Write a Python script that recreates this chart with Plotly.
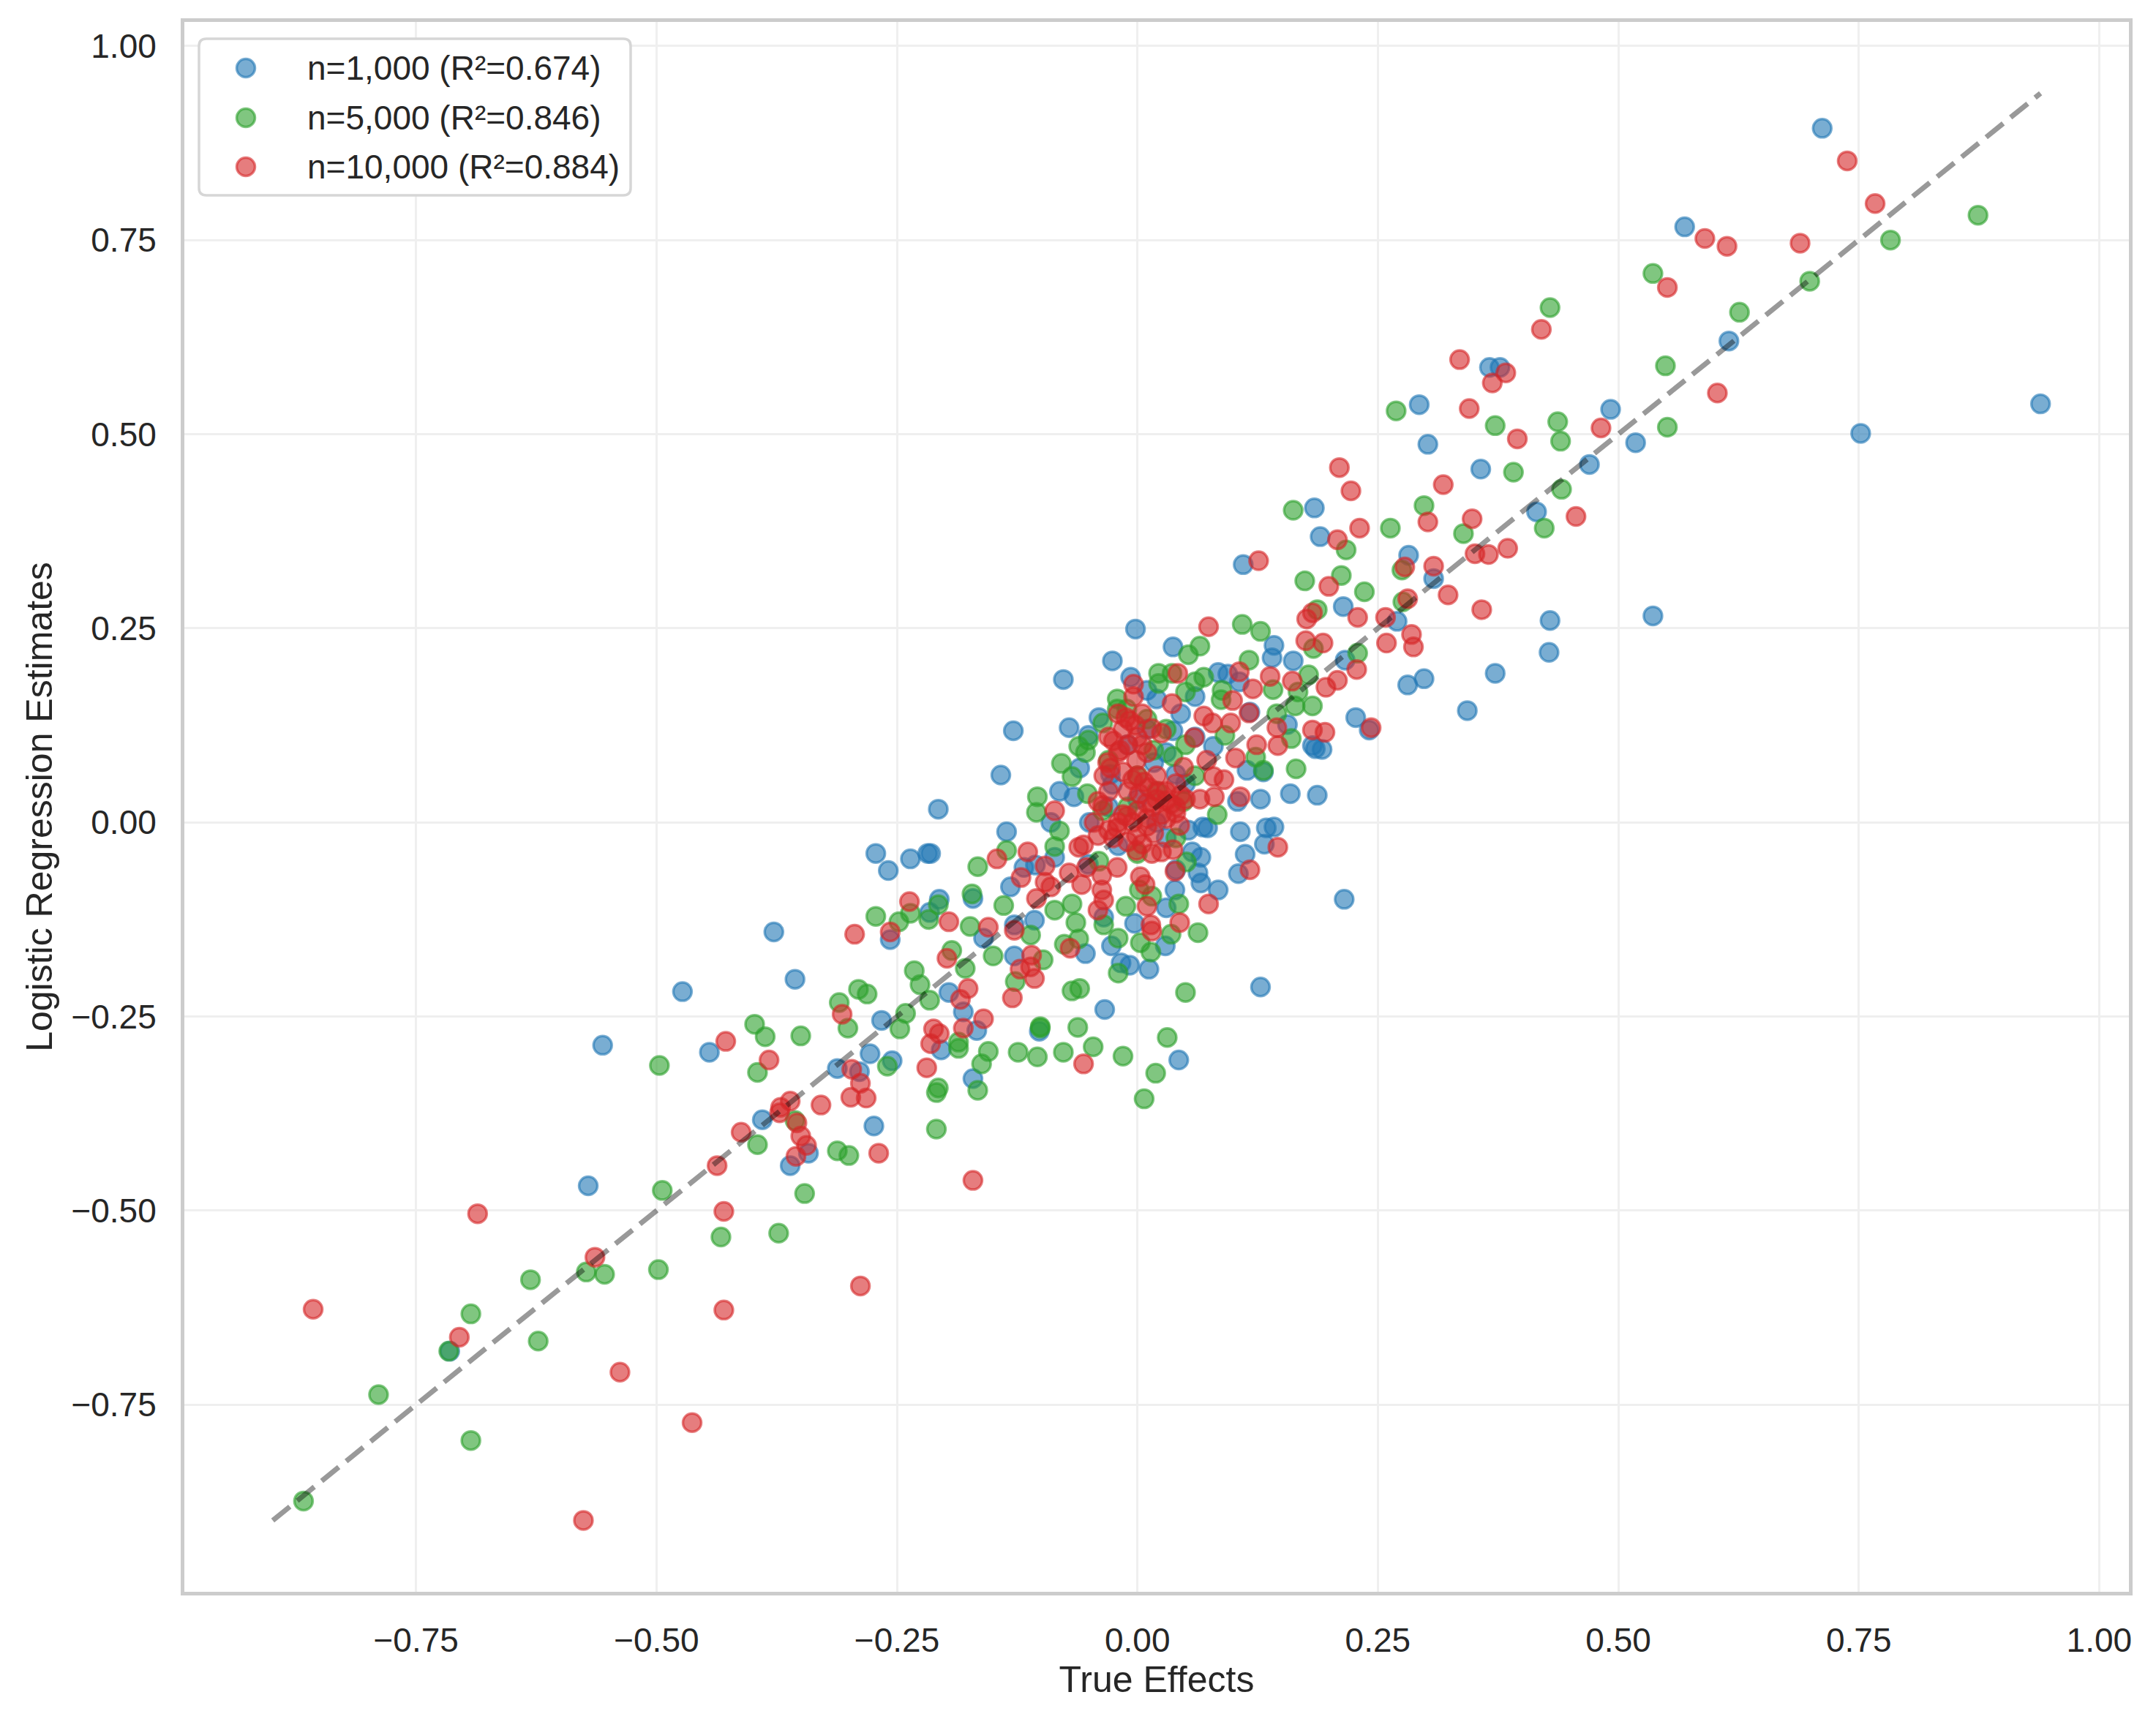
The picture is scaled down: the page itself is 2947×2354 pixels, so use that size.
import plotly.graph_objects as go

# sample sizes and the R² values shown in the legend
sample_sizes = [1000, 5000, 10000]
r2_values = [0.674, 0.846, 0.884]
colors = ["31,119,180", "44,160,44", "214,39,40"]

# (true effect, logistic regression estimate)
n1000_pairs = [
    (0.712, 0.894), (0.569, 0.767), (0.615, 0.620), (0.939, 0.539), (0.752, 0.501),
    (0.492, 0.532), (0.366, 0.586), (0.377, 0.586), (0.293, 0.538),
    (0.302, 0.487), (0.357, 0.455), (0.518, 0.489), (0.470, 0.461), (0.415, 0.400),
    (0.184, 0.405), (0.190, 0.368), (0.110, 0.332), (0.282, 0.344), (0.308, 0.314),
    (0.214, 0.278), (0.270, 0.259), (0.429, 0.260), (0.536, 0.266), (0.428, 0.219),
    (0.372, 0.192), (0.343, 0.144), (0.298, 0.185), (0.281, 0.177), (0.227, 0.135),
    (0.241, 0.119), (0.142, 0.228), (0.140, 0.212), (0.162, 0.208), (0.216, 0.209),
    (0.185, 0.095), (0.192, 0.094), (0.159, 0.037), (0.187, 0.035), (0.128, 0.030),
    (0.084, 0.193), (0.094, 0.191), (0.114, 0.067),
    (0.117, 0.142), (0.106, 0.181), (0.079, 0.098), (0.131, 0.065), (0.156, 0.126),
    (0.182, 0.099), (0.104, 0.027),
    (-0.002, 0.249), (-0.026, 0.208), (0.037, 0.226), (-0.077, 0.184), (-0.129, 0.118),
    (-0.071, 0.122), (-0.142, 0.061), (-0.081, 0.040), (-0.066, 0.033), (-0.040, 0.135),
    (-0.007, 0.187), (0.020, 0.159), (0.060, 0.162), (0.037, 0.118), (0.040, 0.062),
    (-0.026, 0.049), (-0.028, 0.062), (-0.051, 0.112), (0.017, 0.077), (0.068, -0.006),
    (0.053, -0.010), (0.073, -0.007), (-0.136, -0.012), (0.107, -0.012), (0.134, -0.007),
    (0.142, -0.006), (0.132, -0.028),
    (-0.207, 0.017), (-0.132, -0.083), (-0.171, -0.098), (-0.106, -0.055), (-0.118, -0.058),
    (-0.128, -0.132), (-0.107, -0.126), (-0.160, -0.149), (-0.128, -0.172), (-0.054, -0.169),
    (-0.035, -0.122), (-0.027, -0.159), (-0.017, -0.181), (-0.008, -0.184), (0.012, -0.189),
    (-0.003, -0.130), (0.029, -0.159), (0.039, -0.087), (0.057, -0.038), (0.066, -0.045),
    (0.063, -0.065), (0.066, -0.078), (0.084, -0.087), (0.112, -0.041), (0.105, -0.066),
    (0.215, -0.099), (0.128, -0.212), (0.043, -0.306), (-0.034, -0.241), (-0.102, -0.269),
    (-0.181, -0.244), (-0.167, -0.268), (-0.171, -0.330), (0.030, -0.110),
    (-0.086, -0.045), (-0.051, -0.054), (0.040, -0.061),
    (-0.272, -0.040), (-0.259, -0.062), (-0.236, -0.047), (-0.218, -0.040), (-0.215, -0.040),
    (-0.206, -0.099), (-0.216, -0.116), (-0.257, -0.151), (-0.378, -0.141), (-0.356, -0.202),
    (-0.473, -0.218), (-0.556, -0.287), (-0.445, -0.296), (-0.266, -0.255), (-0.278, -0.298),
    (-0.255, -0.307), (-0.289, -0.321), (-0.312, -0.317), (-0.204, -0.293), (-0.196, -0.219),
    (-0.390, -0.383), (-0.274, -0.391), (-0.342, -0.426), (-0.361, -0.442), (-0.571, -0.468),
    (-0.715, -0.681),
    (-0.010, 0.100), (0.010, 0.120), (0.030, 0.090), (-0.030, 0.020), (0.000, 0.030),
    (0.020, 0.000), (-0.050, 0.000), (0.050, 0.050), (-0.020, -0.030), (0.045, 0.140),
    (-0.060, 0.070), (0.010, 0.170), (0.060, 0.110), (-0.090, 0.000), (0.030, -0.020),
]

n5000_pairs = [
    (0.874, 0.782), (0.783, 0.750), (0.699, 0.697), (0.536, 0.707), (0.429, 0.663),
    (0.626, 0.657), (0.549, 0.588), (0.551, 0.509), (0.437, 0.516), (0.372, 0.511),
    (0.269, 0.530),
    (0.440, 0.491), (0.391, 0.451), (0.441, 0.429), (0.423, 0.379), (0.298, 0.408),
    (0.339, 0.372), (0.263, 0.379), (0.162, 0.402), (0.217, 0.351), (0.212, 0.318),
    (0.174, 0.311), (0.236, 0.297), (0.275, 0.325), (0.276, 0.284), (0.187, 0.274),
    (0.109, 0.255), (0.128, 0.246), (0.183, 0.224), (0.229, 0.218), (0.116, 0.209),
    (0.178, 0.190), (0.141, 0.171), (0.087, 0.158), (0.167, 0.168), (0.182, 0.150),
    (0.145, 0.140), (0.160, 0.108), (0.165, 0.069), (0.131, 0.067),
    (0.164, 0.150), (0.123, 0.084), (0.091, 0.112), (0.083, 0.010), (0.088, 0.170),
    (0.053, 0.216), (0.065, 0.227), (0.022, 0.192), (0.022, 0.179), (0.036, 0.192),
    (0.060, 0.181), (0.069, 0.187), (0.050, 0.168), (-0.021, 0.159), (-0.021, 0.146),
    (-0.011, 0.146), (-0.036, 0.128), (-0.051, 0.106), (-0.061, 0.098), (-0.054, 0.090),
    (-0.079, 0.076), (-0.068, 0.059), (-0.104, 0.033), (-0.105, 0.013), (-0.081, -0.011),
    (-0.086, -0.031), (-0.136, -0.036), (-0.052, 0.037), (0.037, 0.085), (0.010, 0.133),
    (0.017, 0.093), (0.048, 0.027), (-0.036, 0.015),
    (-0.166, -0.057), (-0.139, -0.107), (-0.172, -0.092), (-0.174, -0.134), (-0.150, -0.172),
    (-0.111, -0.145), (-0.098, -0.177), (-0.127, -0.205), (-0.179, -0.188), (-0.193, -0.165),
    (-0.086, -0.113), (-0.068, -0.105), (-0.064, -0.129), (-0.076, -0.157), (-0.061, -0.150),
    (-0.035, -0.132), (-0.020, -0.149), (-0.012, -0.108), (0.003, -0.155), (0.014, -0.167),
    (-0.020, -0.194), (0.002, -0.087), (0.015, -0.095), (0.035, -0.144), (0.043, -0.105),
    (0.063, -0.142), (0.051, -0.051), (-0.068, -0.217), (-0.060, -0.214), (0.050, -0.219),
    (-0.101, -0.263), (-0.101, -0.265), (-0.062, -0.264), (-0.046, -0.289), (-0.015, -0.301),
    (0.031, -0.277), (0.019, -0.323), (0.007, -0.356), (-0.077, -0.296), (-0.104, -0.302),
    (-0.124, -0.296), (-0.155, -0.295), (-0.162, -0.311), (-0.186, -0.291), (-0.186, -0.283),
    (-0.166, -0.345),
    (-0.272, -0.121), (-0.248, -0.128), (-0.236, -0.117), (-0.217, -0.125), (-0.207, -0.106),
    (-0.232, -0.191), (-0.226, -0.209), (-0.290, -0.215), (-0.281, -0.221), (-0.310, -0.232),
    (-0.301, -0.265), (-0.241, -0.246), (-0.247, -0.266), (-0.216, -0.229), (-0.398, -0.260),
    (-0.387, -0.276), (-0.350, -0.275), (-0.395, -0.322), (-0.497, -0.313), (-0.260, -0.314),
    (-0.207, -0.342), (-0.209, -0.348), (-0.209, -0.395), (-0.356, -0.384), (-0.312, -0.423),
    (-0.300, -0.429), (-0.395, -0.415), (-0.346, -0.478), (-0.494, -0.474), (-0.433, -0.534),
    (-0.373, -0.529), (-0.573, -0.579), (-0.554, -0.582), (-0.498, -0.576), (-0.631, -0.589),
    (-0.693, -0.633), (-0.623, -0.668), (-0.716, -0.681),
    (-0.789, -0.737), (-0.693, -0.796), (-0.867, -0.874),
    (0.000, 0.060), (0.020, 0.040), (-0.010, 0.020), (0.030, 0.120), (-0.030, 0.080),
    (0.050, 0.100), (0.000, -0.040), (0.040, -0.020), (-0.040, -0.050), (0.060, 0.060),
]

n10000_pairs = [
    (0.738, 0.852), (0.767, 0.797), (0.590, 0.752), (0.613, 0.742), (0.689, 0.746),
    (0.551, 0.689), (0.420, 0.635), (0.335, 0.596), (0.383, 0.579), (0.369, 0.566),
    (0.345, 0.533), (0.482, 0.508), (0.603, 0.553), (0.395, 0.494),
    (0.210, 0.457), (0.222, 0.427), (0.318, 0.435), (0.231, 0.379), (0.208, 0.364),
    (0.302, 0.387), (0.348, 0.391), (0.456, 0.394), (0.126, 0.337), (0.199, 0.304),
    (0.278, 0.329), (0.308, 0.330), (0.281, 0.288), (0.323, 0.293), (0.351, 0.346),
    (0.365, 0.345), (0.385, 0.353), (0.358, 0.274), (0.229, 0.264), (0.258, 0.264),
    (0.176, 0.262), (0.182, 0.270), (0.285, 0.242), (0.287, 0.226), (0.259, 0.231),
    (0.175, 0.234), (0.193, 0.231), (0.228, 0.197), (0.208, 0.183), (0.196, 0.174),
    (0.161, 0.182), (0.138, 0.188), (0.106, 0.194), (0.120, 0.172), (0.099, 0.157),
    (0.116, 0.141), (0.243, 0.122), (0.182, 0.119), (0.195, 0.116), (0.145, 0.122),
    (0.124, 0.100), (0.146, 0.099), (0.102, 0.083), (0.090, 0.055), (0.107, 0.033),
    (0.097, 0.128), (0.078, 0.128), (0.080, 0.033), (0.079, 0.059),
    (0.074, 0.252), (0.042, 0.192), (0.069, 0.137), (0.059, 0.109), (0.036, 0.153),
    (-0.004, 0.178), (-0.004, 0.162), (-0.008, 0.131), (0.015, 0.121), (0.025, 0.115),
    (-0.018, 0.093), (-0.031, 0.077), (-0.001, 0.080), (0.007, 0.052), (0.002, 0.037),
    (0.048, 0.071), (0.072, 0.080), (0.065, 0.030), (0.035, 0.024), (0.030, 0.005),
    (0.010, 0.005), (-0.011, 0.008), (-0.041, 0.027), (-0.036, 0.022), (-0.086, 0.015),
    (-0.021, -0.007), (-0.001, -0.017), (0.017, -0.014), (-0.041, -0.017), (-0.056, -0.029),
    (0.044, -0.004), (-0.061, -0.032), (-0.001, -0.036),
    (-0.020, 0.140), (-0.015, 0.120), (-0.025, 0.105), (-0.010, 0.100), (0.000, 0.110),
    (0.005, 0.140), (0.010, 0.090), (-0.030, 0.110), (0.020, 0.030), (0.030, 0.040),
    (0.040, 0.050), (0.015, 0.020), (-0.005, 0.000), (-0.020, 0.000), (-0.030, -0.010),
    (0.000, 0.060), (0.020, 0.060), (0.050, 0.030), (0.025, 0.010), (-0.010, 0.040),
    (-0.015, 0.065), (0.010, 0.025), (0.040, 0.020), (-0.045, 0.000),
    (-0.012, 0.135), (-0.002, 0.125), (0.005, 0.100), (-0.020, 0.090), (-0.028, 0.070),
    (-0.035, 0.060), (-0.005, 0.055), (0.012, 0.045), (0.022, 0.040), (0.030, 0.028),
    (0.040, 0.012), (0.045, 0.035), (0.010, -0.005), (-0.010, -0.025), (-0.025, -0.020),
    (0.005, -0.028), (0.015, -0.040), (-0.015, 0.010), (-0.030, 0.040), (0.000, 0.015),
    (-0.146, -0.047), (-0.114, -0.038), (-0.096, -0.056), (-0.121, -0.071), (-0.096, -0.077),
    (-0.090, -0.083), (-0.105, -0.098), (-0.071, -0.065), (-0.058, -0.080), (-0.053, -0.058),
    (-0.037, -0.068), (-0.021, -0.058), (-0.037, -0.087), (-0.035, -0.100), (-0.041, -0.113),
    (0.003, -0.070), (0.008, -0.080), (0.010, -0.108), (0.014, -0.132), (0.015, -0.140),
    (0.044, -0.129), (0.039, -0.063), (0.025, -0.038), (0.037, -0.035), (0.074, -0.105),
    (0.117, -0.061), (0.146, -0.032), (-0.155, -0.135), (-0.128, -0.139),
    (-0.070, -0.162), (-0.110, -0.171), (-0.111, -0.186), (-0.107, -0.201), (-0.122, -0.189),
    (-0.176, -0.214), (-0.184, -0.228), (-0.130, -0.226), (-0.160, -0.253), (-0.181, -0.265),
    (-0.056, -0.311), (-0.171, -0.461),
    (-0.237, -0.102), (-0.294, -0.144), (-0.257, -0.141), (-0.196, -0.128), (-0.198, -0.175),
    (-0.307, -0.247), (-0.219, -0.316), (-0.212, -0.266), (-0.206, -0.272), (-0.215, -0.285),
    (-0.297, -0.318), (-0.288, -0.336), (-0.298, -0.354), (-0.282, -0.355), (-0.329, -0.364),
    (-0.361, -0.359), (-0.371, -0.367), (-0.372, -0.374), (-0.354, -0.387), (-0.350, -0.404),
    (-0.344, -0.416), (-0.355, -0.430), (-0.412, -0.399), (-0.383, -0.306), (-0.428, -0.282),
    (-0.269, -0.426), (-0.437, -0.442), (-0.430, -0.501), (-0.564, -0.560), (-0.686, -0.504),
    (-0.288, -0.597), (-0.430, -0.628), (-0.705, -0.663),
    (-0.857, -0.627), (-0.538, -0.708), (-0.576, -0.899), (-0.463, -0.773),
]

series = [n1000_pairs, n5000_pairs, n10000_pairs]

FONT = "Liberation Sans, Arial, sans-serif"
TEXT = "#262626"

# figure size in px (the page has an 8px body margin)
W, H = 2939, 2346
ML, MR, MT, MB = 244, 37, 22, 178
PW, PH = W - ML - MR, H - MT - MB

fig = go.Figure()

all_vals = []
for n, r2, col, pairs in zip(sample_sizes, r2_values, colors, series):
    xs = [p[0] for p in pairs]
    ys = [p[1] for p in pairs]
    all_vals += xs + ys
    fig.add_trace(go.Scatter(
        x=xs, y=ys, mode="markers", showlegend=False,
        name=f"n={n:,} (R²={r2:.3f})",
        marker=dict(size=25, color=f"rgba({col},0.6)",
                    line=dict(color=f"rgba({col},0.6)", width=3.5)),
    ))

# perfect-agreement line from smallest to largest value
lo, hi = min(all_vals), max(all_vals)
fig.add_trace(go.Scatter(
    x=[lo, hi], y=[lo, hi], mode="lines", showlegend=False, hoverinfo="skip",
    line=dict(color="rgba(0,0,0,0.4)", width=7, dash="30px,13px"),
))


# legend drawn by hand so the symbols can be as big as the plotted markers
def px_x(px):
    return (px - ML) / PW


def px_y(py):
    return (H - MB - py) / PH


box_l, box_r, box_t, box_b, rad = 264, 854, 45, 259, 10
rx, ry = rad / PW, rad / PH
x0, x1, y0, y1 = px_x(box_l), px_x(box_r), px_y(box_b), px_y(box_t)
box_path = (f"M{x0 + rx},{y1} L{x1 - rx},{y1} Q{x1},{y1} {x1},{y1 - ry} "
            f"L{x1},{y0 + ry} Q{x1},{y0} {x1 - rx},{y0} L{x0 + rx},{y0} "
            f"Q{x0},{y0} {x0},{y0 + ry} L{x0},{y1 - ry} Q{x0},{y1} {x0 + rx},{y1} Z")
shapes = [dict(type="path", xref="paper", yref="paper", path=box_path,
               fillcolor="white", line=dict(color="#d6d6d6", width=3.5), layer="above")]
annotations = []
row_y = [85, 153, 220]
for n, r2, col, ry_px in zip(sample_sizes, r2_values, colors, row_y):
    shapes.append(dict(
        type="circle", xref="paper", yref="paper", layer="above",
        xsizemode="pixel", ysizemode="pixel",
        xanchor=px_x(328), yanchor=px_y(ry_px), x0=-12.5, x1=12.5, y0=-12.5, y1=12.5,
        fillcolor=f"rgba({col},0.6)", line=dict(color=f"rgba({col},0.6)", width=3.5),
    ))
    annotations.append(dict(
        xref="paper", yref="paper", x=px_x(410), y=px_y(ry_px),
        xanchor="left", yanchor="middle", showarrow=False,
        text=f"n={n:,} (R²={r2:.3f})",
        font=dict(family=FONT, size=46, color=TEXT),
    ))

pad = 0.05 * (hi - lo)
axis_common = dict(
    range=[lo - pad, hi + pad], tick0=0, dtick=0.25, tickformat=".2f",
    showgrid=True, gridcolor="#efefef", gridwidth=3, zeroline=False,
    showline=True, linecolor="#cccccc", linewidth=5, mirror=True,
    ticks="", tickfont=dict(family=FONT, size=46, color=TEXT),
)

fig.update_layout(
    width=W, height=H,
    margin=dict(l=ML, r=MR, t=MT, b=MB),
    paper_bgcolor="white", plot_bgcolor="white",
    font=dict(family=FONT, color=TEXT),
    showlegend=False,
    xaxis=dict(axis_common, ticklabelstandoff=22,
               title=dict(text="True Effects", standoff=10,
                          font=dict(family=FONT, size=50, color=TEXT))),
    yaxis=dict(axis_common, ticklabelstandoff=24,
               title=dict(text="Logistic Regression Estimates", standoff=11,
                          font=dict(family=FONT, size=50, color=TEXT))),
    shapes=shapes,
    annotations=annotations,
)

fig.write_html("out.html")
